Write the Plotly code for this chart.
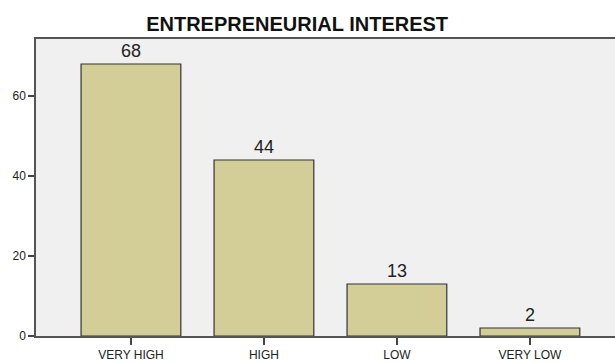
import plotly.graph_objects as go

categories = ["VERY HIGH", "HIGH", "LOW", "VERY LOW"]
counts = [68, 44, 13, 2]
y_ticks = [0, 20, 40, 60]

FONT = "Liberation Sans, Arial"

fig = go.Figure()
fig.add_trace(go.Bar(
    x=list(range(len(categories))), y=counts,
    text=[str(c) for c in counts], textposition="outside",
    textfont=dict(family=FONT, size=18, color="#222222"),
    cliponaxis=False,
    marker=dict(color="#D3CE98", line=dict(color="#333333", width=1.2)),
    width=0.75,
))

fig.update_layout(
    width=615, height=363,
    margin=dict(l=36, r=0, t=39, b=27),
    paper_bgcolor="white", plot_bgcolor="#F0F0F0",
    showlegend=False,
    title=dict(text="<b>ENTREPRENEURIAL INTEREST</b>", x=0.451, xref="paper", xanchor="center",
               y=1, yref="paper", yanchor="bottom", pad=dict(b=8),
               font=dict(family=FONT, size=20, color="#111111")),
    xaxis=dict(
        tickmode="array", tickvals=list(range(len(categories))), ticktext=categories,
        range=[-0.714, 3.64], showline=True, linecolor="#555555", linewidth=1.5,
        mirror=True, ticks="outside", ticklen=7, tickwidth=1.5, tickcolor="#444444",
        showgrid=False, zeroline=False,
        tickfont=dict(family=FONT, size=12, color="#222222"),
    ),
    yaxis=dict(
        range=[0, 74.25], tickmode="array", tickvals=y_ticks,
        showline=True, linecolor="#555555", linewidth=1.5,
        ticks="outside", ticklen=6, tickwidth=1.5, tickcolor="#444444",
        showgrid=False, zeroline=False,
        tickfont=dict(family=FONT, size=12, color="#222222"),
    ),
)

fig.write_html("out.html")
